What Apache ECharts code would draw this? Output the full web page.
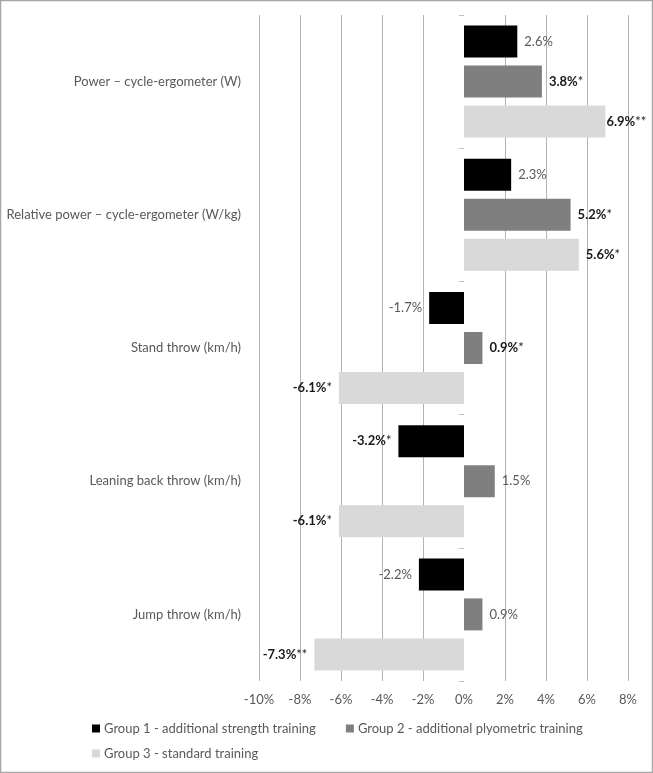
<!DOCTYPE html>
<html>
<head>
<meta charset="utf-8">
<script src="https://cdn.jsdelivr.net/npm/echarts@6/dist/echarts.min.js"></script>
<style>
html,body{margin:0;padding:0;background:#fff;}
#chart{width:653px;height:773px;}
</style>
</head>
<body>
<div id="chart"></div>
<script>
const categories = [
  'Power \u2013 cycle-ergometer (W)',
  'Relative power \u2013 cycle-ergometer (W/kg)',
  'Stand throw (km/h)',
  'Leaning back throw (km/h)',
  'Jump throw (km/h)'
];
const seriesNames = [
  'Group 1 - additional strength training',
  'Group 2 - additional plyometric training',
  'Group 3 - standard training'
];
const group1 = [2.6, 2.3, -1.7, -3.2, -2.2];
const group2 = [3.8, 5.2, 0.9, 1.5, 0.9];
const group3 = [6.9, 5.6, -6.1, -6.1, -7.3];
const stars1 = ['', '', '', '*', ''];
const stars2 = ['*', '*', '*', '', ''];
const stars3 = ['**', '*', '*', '*', '**'];
const xTickMin = -10, xTickMax = 8, xTickStep = 2;

const colors = ['#000000', '#7f7f7f', '#d9d9d9'];
const FONT = 'Lato';
const TXT = '#595959';

function makeData(vals, stars) {
  return vals.map((v, i) => {
    const s = stars[i];
    const txt = v.toFixed(1) + '%';
    const formatted = s ? '{b|' + txt + '}{s|' + s + '}' : '{n|' + txt + '}';
    return {
      value: v,
      label: {
        position: v < 0 ? 'left' : 'right',
        distance: v > 6.5 ? 1 : 7,
        formatter: formatted
      }
    };
  });
}

const allVals = [group1, group2, group3];
const allStars = [stars1, stars2, stars3];

// hide the 0% gridline
const nTicks = Math.round((xTickMax - xTickMin) / xTickStep) + 1;
const gridColors = [];
for (let i = 0; i < nTicks; i++) {
  const v = xTickMin + i * xTickStep;
  gridColors.push(v === 0 ? 'rgba(0,0,0,0)' : '#b3b3b3');
}

const series = seriesNames.map((name, k) => ({
  name: name,
  type: 'bar',
  barWidth: 32,
  barGap: '25%',
  itemStyle: { color: colors[k] },
  label: {
    show: true,
    fontFamily: FONT,
    fontSize: 13,
    rich: {
      n: { color: TXT, fontFamily: FONT, fontSize: 13 },
      b: { color: '#1a1a1a', fontFamily: FONT, fontSize: 13, fontWeight: 'bold' },
      s: { color: '#1a1a1a', fontFamily: FONT, fontSize: 13 }
    }
  },
  data: makeData(allVals[k], allStars[k])
}));

const chart = echarts.init(document.getElementById('chart'), null, { renderer: 'canvas' });
chart.setOption({
  animation: false,
  backgroundColor: '#ffffff',
  graphic: [{
    type: 'rect',
    shape: { x: 0.5, y: 0.5, width: 652, height: 772 },
    style: { fill: 'none', stroke: '#a6a6a6', lineWidth: 1.5 },
    silent: true
  }],
  grid: { left: 259, right: 25, top: 15, bottom: 92, containLabel: false },
  xAxis: {
    type: 'value',
    min: xTickMin,
    max: xTickMax,
    interval: xTickStep,
    axisLine: { show: false },
    axisTick: { show: false },
    axisLabel: {
      formatter: '{value}%',
      color: TXT,
      fontFamily: FONT,
      fontSize: 13,
      margin: 12
    },
    splitLine: { show: true, lineStyle: { color: gridColors, width: 1 } }
  },
  yAxis: [{
    type: 'category',
    data: categories,
    inverse: true,
    position: 'left',
    axisLine: { show: false, onZero: false },
    axisTick: { show: false },
    axisLabel: { color: TXT, fontFamily: FONT, fontSize: 13, margin: 18 }
  }, {
    type: 'category',
    data: categories,
    inverse: true,
    position: 'left',
    axisLine: { show: false, onZero: true },
    axisTick: { show: true, length: 5, lineStyle: { color: '#bfbfbf' } },
    axisLabel: { show: false }
  }],
  legend: [{
    data: [seriesNames[0], seriesNames[1]],
    left: 92, top: 722,
    padding: 0,
    itemWidth: 8, itemHeight: 8, itemGap: 30,
    icon: 'rect',
    textStyle: { color: TXT, fontFamily: FONT, fontSize: 13, padding: [0, 0, 0, -1] }
  }, {
    data: [seriesNames[2]],
    left: 92, top: 747,
    padding: 0,
    itemWidth: 8, itemHeight: 8,
    icon: 'rect',
    textStyle: { color: TXT, fontFamily: FONT, fontSize: 13, padding: [0, 0, 0, -1] }
  }],
  series: series
});
</script>
</body>
</html>
